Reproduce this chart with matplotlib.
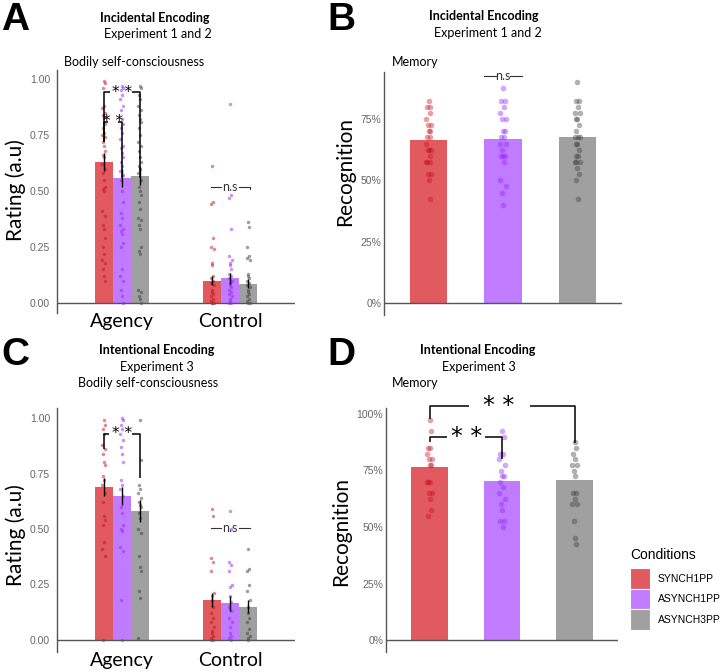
import numpy as np
import matplotlib
matplotlib.use('Agg')
import matplotlib.pyplot as plt
from matplotlib.patches import Rectangle

# --- data ---
conditions = ['SYNCH1PP', 'ASYNCH1PP', 'ASYNCH3PP']
groups = ['Agency', 'Control']

# panel A: bodily self-consciousness, experiment 1 and 2
a_means = {'Agency': [0.63, 0.56, 0.565], 'Control': [0.10, 0.11, 0.085]}
a_se = {'Agency': [0.04, 0.04, 0.04], 'Control': [0.02, 0.025, 0.02]}
a_pts = {
    'Agency': [
        [0.99, 0.98, 0.96, 0.88, 0.87, 0.85, 0.84, 0.83, 0.80, 0.78, 0.76, 0.75, 0.74, 0.72, 0.70,
         0.68, 0.66, 0.65, 0.62, 0.60, 0.58, 0.55, 0.52, 0.51, 0.50, 0.41, 0.39, 0.35, 0.33, 0.29,
         0.25, 0.22, 0.19, 0.18, 0.15, 0.12, 0.10],
        [0.97, 0.96, 0.95, 0.93, 0.91, 0.88, 0.86, 0.82, 0.80, 0.78, 0.76, 0.73, 0.70, 0.69, 0.67,
         0.65, 0.63, 0.61, 0.59, 0.57, 0.55, 0.50, 0.45, 0.40, 0.38, 0.35, 0.33, 0.32, 0.31, 0.27,
         0.25, 0.15, 0.12, 0.10, 0.06, 0.03, 0.0],
        [0.97, 0.96, 0.93, 0.91, 0.88, 0.86, 0.84, 0.82, 0.81, 0.78, 0.75, 0.72, 0.70, 0.68, 0.65,
         0.63, 0.61, 0.60, 0.58, 0.55, 0.52, 0.50, 0.48, 0.45, 0.42, 0.38, 0.37, 0.35, 0.33, 0.25,
         0.23, 0.22, 0.06, 0.05, 0.03, 0.02, 0.0],
    ],
    'Control': [
        [0.61, 0.45, 0.44, 0.29, 0.25, 0.24, 0.18, 0.17, 0.12, 0.11, 0.10, 0.09, 0.08, 0.06, 0.05,
         0.04, 0.03, 0.02, 0.01, 0.0, 0.0, 0.0],
        [0.89, 0.48, 0.47, 0.33, 0.21, 0.19, 0.18, 0.17, 0.15, 0.13, 0.12, 0.11, 0.10, 0.09, 0.08,
         0.07, 0.06, 0.05, 0.04, 0.03, 0.02, 0.01, 0.0, 0.0],
        [0.36, 0.34, 0.25, 0.21, 0.20, 0.19, 0.13, 0.12, 0.11, 0.10, 0.09, 0.08, 0.07, 0.06, 0.05,
         0.04, 0.03, 0.02, 0.01, 0.0, 0.0],
    ],
}

# panel C: bodily self-consciousness, experiment 3
c_means = {'Agency': [0.69, 0.65, 0.58], 'Control': [0.18, 0.165, 0.15]}
c_se = {'Agency': [0.04, 0.04, 0.05], 'Control': [0.03, 0.035, 0.03]}
c_pts = {
    'Agency': [
        [0.99, 0.97, 0.95, 0.93, 0.88, 0.86, 0.84, 0.80, 0.79, 0.74, 0.72, 0.70, 0.66, 0.62, 0.56,
         0.54, 0.52, 0.44, 0.41, 0.38, 0.0],
        [1.00, 0.99, 0.97, 0.95, 0.93, 0.90, 0.87, 0.84, 0.80, 0.72, 0.70, 0.68, 0.65, 0.60, 0.57,
         0.52, 0.50, 0.49, 0.42, 0.40, 0.18, 0.0],
        [0.99, 0.81, 0.70, 0.68, 0.66, 0.64, 0.62, 0.61, 0.60, 0.57, 0.55, 0.50, 0.48, 0.38, 0.33,
         0.31, 0.22, 0.19, 0.01],
    ],
    'Control': [
        [0.59, 0.56, 0.37, 0.35, 0.31, 0.21, 0.20, 0.18, 0.15, 0.12, 0.10, 0.08, 0.06, 0.04, 0.03,
         0.02, 0.01, 0.0, 0.0],
        [0.58, 0.50, 0.35, 0.34, 0.31, 0.25, 0.24, 0.20, 0.17, 0.15, 0.13, 0.10, 0.08, 0.06, 0.03,
         0.02, 0.01, 0.0],
        [0.41, 0.32, 0.31, 0.25, 0.22, 0.18, 0.15, 0.12, 0.10, 0.08, 0.05, 0.03, 0.02, 0.01, 0.0],
    ],
}

# panel B: recognition, experiment 1 and 2
b_means = [0.665, 0.667, 0.675]
b_pts = [
    [82.5, 80, 80, 77.5, 75, 72.5, 72.5, 70, 70, 67.5, 67.5, 65, 62.5, 62.5, 62.5, 60, 57.5, 57.5,
     57.5, 52.5, 52.5, 50, 42.5],
    [87.5, 82.5, 82.5, 80, 77.5, 75, 75, 70, 70, 67.5, 67.5, 65, 65, 62.5, 60, 60, 60, 57.5, 50,
     47.5, 45, 40],
    [90, 82.5, 82.5, 80, 77.5, 77.5, 75, 75, 72.5, 70, 67.5, 67.5, 67.5, 65, 65, 62.5, 60, 60, 57.5,
     57.5, 57.5, 55, 52.5, 50, 42.5],
]

# panel D: recognition, experiment 3
d_means = [0.765, 0.705, 0.71]
d_pts = [
    [97.5, 92.5, 85, 85, 82.5, 80, 80, 77.5, 77.5, 70, 70, 70, 65, 65, 62.5, 57.5, 55],
    [92.5, 90, 82.5, 82.5, 80, 77.5, 75, 72.5, 72.5, 70, 67.5, 65, 62.5, 60, 57.5, 52.5, 52.5, 50],
    [87.5, 85, 82.5, 80, 77.5, 77.5, 75, 72.5, 65, 65, 62.5, 60, 60, 52.5, 45, 42.5],
]

bar_colors = ['#E05A60', '#C07BFF', '#A0A0A0']
dot_colors = ['#C8101A', '#9420FF', '#3C3C3C']

W, H = 725, 672
fig = plt.figure(figsize=(W / 100, H / 100), dpi=100)

TXT = ['Lato', 'DejaVu Sans']
NUM = ['Liberation Sans', 'DejaVu Sans']


def add_ax(left, top, right, bottom):
    return fig.add_axes([left / W, 1 - bottom / H, (right - left) / W, (bottom - top) / H])


def ftext(x, y, s, **kw):
    kw.setdefault('family', TXT)
    fig.text(x / W, 1 - y / H, s, **kw)


def jit(n, spread):
    pattern = np.array([0, 0.6, -0.6, 0.3, -0.9, 0.9, -0.3])
    return spread * pattern[np.arange(n) % len(pattern)]


def style(ax, ylim, xlim):
    ax.set_ylim(*ylim)
    ax.set_xlim(*xlim)
    for s in ['top', 'right', 'bottom']:
        ax.spines[s].set_visible(False)
    ax.spines['left'].set_color('#555555')
    ax.spines['left'].set_linewidth(1)
    ax.axhline(0, color='#555555', lw=1, zorder=4)
    ax.tick_params(axis='y', length=0, labelsize=7.5, labelcolor='#666666', pad=5)
    for lab in ax.get_yticklabels():
        lab.set_family(NUM)
    ax.set_facecolor('none')


def rating_panel(ax, means, se, pts):
    w = 1 / 6
    for gi, g in enumerate(groups):
        for ci in range(3):
            x = gi + 1 + (ci - 1) * w
            ax.bar(x, means[g][ci], width=w, color=bar_colors[ci], zorder=1)
            v = np.array(pts[g][ci])
            ax.scatter(x + jit(len(v), 0.015), v, s=6, color=dot_colors[ci], alpha=0.5,
                       lw=0, zorder=2)
            ax.vlines(x, means[g][ci] - se[g][ci], means[g][ci] + se[g][ci], color='black',
                      lw=1, zorder=3)
    ax.set_xticks([1, 2])
    ax.set_xticklabels(groups, family=TXT, fontsize=14)
    ax.tick_params(axis='x', length=0, pad=0)
    ax.set_yticks([0, 0.25, 0.5, 0.75, 1.0])
    ax.set_yticklabels(['0.00', '0.25', '0.50', '0.75', '1.00'])


def memory_panel(ax, means, pts):
    for ci in range(3):
        x = ci + 1
        ax.bar(x, means[ci], width=0.5, color=bar_colors[ci], zorder=1)
        v = np.array(pts[ci]) / 100
        ax.scatter(x + jit(len(v), 0.04), v, s=16, color=dot_colors[ci], alpha=0.4, lw=0,
                   zorder=2)
    ax.set_xticks([])
    ax.set_yticks([0, 0.25, 0.5, 0.75, 1.0])
    ax.set_yticklabels(['0%', '25%', '50%', '75%', '100%'])


def seg(ax, xs, ys):
    ax.plot(xs, ys, color='black', lw=1.1, clip_on=False, zorder=5, solid_capstyle='butt')


def ns(ax, xc, y, half, gap, hook=False):
    ax.plot([xc - half, xc - gap], [y, y], color='#333333', lw=0.8, clip_on=False, zorder=5)
    ax.plot([xc + gap, xc + half], [y, y], color='#333333', lw=0.8, clip_on=False, zorder=5)
    if hook:
        ax.plot([xc + half, xc + half], [y, y - 0.012], color='#333333', lw=0.8, clip_on=False)
    ax.text(xc, y, 'n.s', ha='center', va='center', fontsize=9, color='#333333', family=TXT)


# --- panel A ---
axA = add_ax(57, 70, 295, 313)
rating_panel(axA, a_means, a_se, a_pts)
style(axA, (-10 / 224, 233 / 224), (0.4, 2.6))
w = 1 / 6
seg(axA, [1 - w, 1 - w, 1 - w + 0.055], [0.72, 0.94, 0.94])
seg(axA, [1 + w - 0.07, 1 + w, 1 + w], [0.94, 0.94, 0.56])
axA.text(1.0, 0.94, '* *', ha='center', va='center', fontsize=11, zorder=6)
seg(axA, [1 - w, 1 - w, 1 - w + 0.04], [0.72, 0.81, 0.81])
seg(axA, [1 - 0.04, 1, 1], [0.81, 0.81, 0.56])
axA.text(1 - w / 2, 0.81, '* *', ha='center', va='center', fontsize=11, zorder=6)
ns(axA, 2.0, 0.52, 0.18, 0.08, hook=True)

# --- panel C ---
axC = add_ax(57, 408, 295, 652)
rating_panel(axC, c_means, c_se, c_pts)
style(axC, (-12 / 222, 232 / 222), (0.4, 2.6))
seg(axC, [1 - w, 1 - w, 1 - w + 0.045], [0.86, 0.93, 0.93])
seg(axC, [1 + w - 0.07, 1 + w, 1 + w], [0.93, 0.93, 0.73])
axC.text(1.0, 0.93, '* *', ha='center', va='center', fontsize=11, zorder=6)
ns(axC, 2.0, 0.505, 0.18, 0.08)

# --- panel B ---
axB = add_ax(384, 72, 622, 315)
memory_panel(axB, b_means, b_pts)
style(axB, (-12 / 245.3, 231 / 245.3), (0.4, 3.6))
axB.tick_params(axis='y', pad=2)
ns(axB, 2.0, 0.925, 0.25, 0.09)

# --- panel D ---
axD = add_ax(386, 408, 618, 652)
memory_panel(axD, d_means, d_pts)
style(axD, (-12 / 226, 232 / 226), (0.4, 3.6))
axD.tick_params(axis='y', pad=2)
seg(axD, [1, 1, 1.55], [0.98, 1.035, 1.035])
seg(axD, [2.38, 3, 3], [1.035, 1.035, 0.87])
axD.text(1.96, 1.035, '* *', ha='center', va='center', fontsize=17, zorder=6)
seg(axD, [1, 1, 1.24], [0.875, 0.90, 0.90])
seg(axD, [1.76, 2, 2], [0.90, 0.90, 0.80])
axD.text(1.51, 0.90, '* *', ha='center', va='center', fontsize=17, zorder=6)

# --- titles and labels ---
for lx, ly, letter in [(1, 20, 'A'), (327, 20, 'B'), (1, 355, 'C'), (327, 355, 'D')]:
    ftext(lx, ly, letter, fontsize=28, fontweight='bold', ha='left', va='center',
          family=['Liberation Sans', 'DejaVu Sans'])

ftext(155, 18, 'Incidental Encoding', fontsize=9, fontweight='bold', ha='center', va='center')
ftext(158, 34, 'Experiment 1 and 2', fontsize=9, ha='center', va='center')
ftext(64, 62, 'Bodily self-consciousness', fontsize=9, ha='left', va='center')

ftext(484, 16, 'Incidental Encoding', fontsize=9, fontweight='bold', ha='center', va='center')
ftext(488, 33, 'Experiment 1 and 2', fontsize=9, ha='center', va='center')
ftext(392, 62, 'Memory', fontsize=9, ha='left', va='center')

ftext(157, 350, 'Intentional Encoding', fontsize=9, fontweight='bold', ha='center', va='center')
ftext(157, 367, 'Experiment 3', fontsize=9, ha='center', va='center')
ftext(148, 383, 'Bodily self-consciousness', fontsize=9, ha='center', va='center')

ftext(478, 350, 'Intentional Encoding', fontsize=9, fontweight='bold', ha='center', va='center')
ftext(479, 367, 'Experiment 3', fontsize=9, ha='center', va='center')
ftext(392, 383, 'Memory', fontsize=9, ha='left', va='center')

ftext(16, 190, 'Rating (a.u)', fontsize=15, rotation=90, ha='center', va='center')
ftext(16, 535, 'Rating (a.u)', fontsize=15, rotation=90, ha='center', va='center')
ftext(345, 172, 'Recognition', fontsize=15, rotation=90, ha='center', va='center')
ftext(341, 531, 'Recognition', fontsize=15, rotation=90, ha='center', va='center')

# --- legend (drawn by hand to match the ggplot key boxes) ---
ftext(630, 555, 'Conditions', fontsize=10, ha='left', va='center', family=NUM)
for i, (lab, col) in enumerate(zip(conditions, bar_colors)):
    top = 568 + i * 20.7
    fig.add_artist(Rectangle((630 / W, 1 - (top + 20.7) / H), 20 / W, 20.7 / H,
                             transform=fig.transFigure, facecolor=col, edgecolor='white',
                             lw=0.8))
    ftext(658, top + 10.5, lab, fontsize=7.5, ha='left', va='center', family=NUM)

fig.savefig('out.png', dpi=100)
